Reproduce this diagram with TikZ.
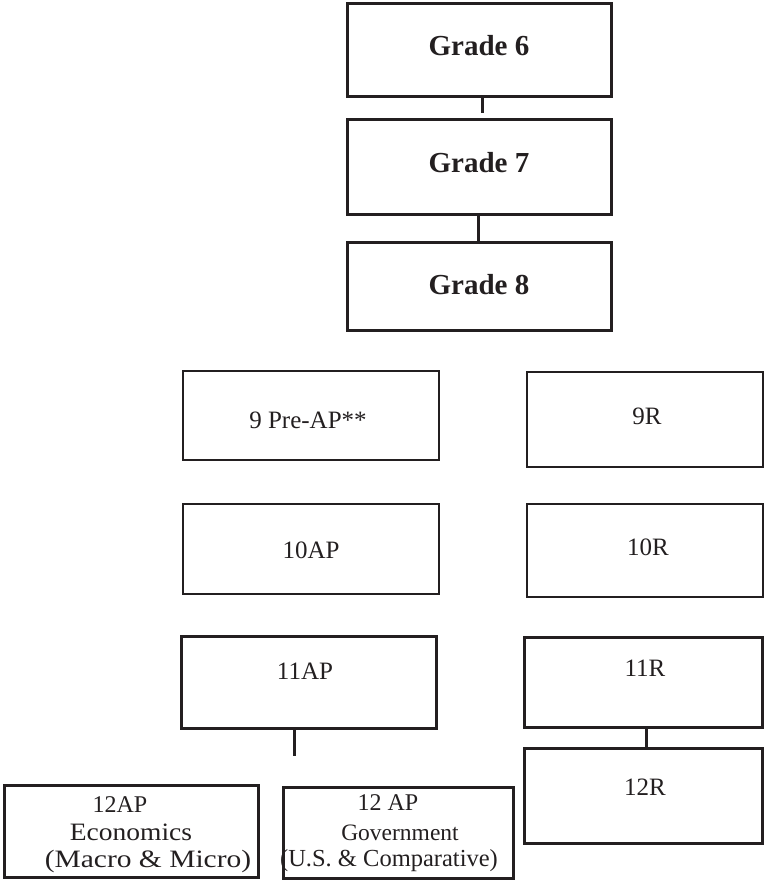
\documentclass[tikz,border=0pt]{standalone}
\usepackage{fontspec}
\setmainfont{Liberation Serif}
\usetikzlibrary{calc}
\definecolor{ink}{HTML}{231F20}
\tikzset{
  box/.style={draw=ink, line width=3pt, rectangle, inner sep=0pt, outer sep=0pt},
  thinbox/.style={box, line width=2.5pt},
  link/.style={draw=ink, line width=3pt},
  gradetext/.style={font=\fontsize{29}{33}\selectfont\bfseries, text=ink},
  coursetext/.style={font=\fontsize{25}{29}\selectfont, text=ink},
  smalltext/.style={font=\fontsize{24}{27}\selectfont, text=ink, anchor=base},
}
% place a box by its pixel corners (x1,y1)-(x2,y2)
\newcommand{\boxat}[6][box]{%
  \node[#1, minimum width=#4pt-#2pt, minimum height=#5pt-#3pt]
    (#6) at ({(#2+#4)/2},{(#3+#5)/2}) {};}
\begin{document}
\begin{tikzpicture}[x=1pt, y=-1pt]
\path[use as bounding box] (0,0) rectangle (765,881);

% middle-school grades
\boxat{347}{3}{611}{96}{g6}
\boxat{347}{119}{611}{214}{g7}
\boxat{347}{242}{611}{330}{g8}
\node[gradetext] (t6) at (479,46) {Grade 6};
\node[gradetext] (t7) at (479,163) {Grade 7};
\node[gradetext] (t8) at (479,284.5) {Grade 8};

% AP track
\boxat[thinbox]{183}{371}{439}{460}{ap9}
\boxat[thinbox]{183}{504}{439}{594}{ap10}
\boxat{181}{636}{436}{728}{ap11}
\node[coursetext] (tap9) at (308,420) {9 Pre-AP**};
\node[coursetext] (tap10) at (311,550) {10AP};
\node[coursetext] (tap11) at (305,671) {11AP};

% regular track
\boxat[thinbox]{527}{372}{763}{467}{r9}
\boxat[thinbox]{527}{504}{763}{597}{r10}
\boxat{524}{637}{762}{727}{r11}
\boxat{524}{748}{762}{843}{r12}
\node[coursetext] (tr9) at (647,416) {9R};
\node[coursetext] (tr10) at (648,547) {10R};
\node[coursetext] (tr11) at (645,668) {11R};
\node[coursetext] (tr12) at (645,787) {12R};

% senior AP choices
\boxat{4}{785}{258}{877}{econ}
\boxat{283}{787}{513}{878}{gov}
\node[smalltext] (e1) at (120,812) {12AP};
\node[smalltext, font=\fontsize{25}{28}\selectfont] (e2) at (131,840) {\scalebox{1.1}[1]{Economics}};
\node[smalltext, font=\fontsize{25}{28}\selectfont] (e3) at (148,867) {\scalebox{1.18}[1]{(Macro \& Micro)}};
\node[smalltext] (v1) at (388,810) {12 AP};
\node[smalltext, font=\fontsize{23.5}{27}\selectfont] (v2) at (400,840) {Government};
\node[smalltext, font=\fontsize{24.5}{27}\selectfont] (v3) at (389,866) {(U.S. \& Comparative)};

% connectors
\coordinate (g6end) at (482,113);
\coordinate (ap11end) at (294,756);
\draw[link] (g6.south -| g6end) -- (g6end);
\draw[link] (g7.south -| 478,0) -- (g8.north -| 478,0);
\draw[link] (ap11.south -| ap11end) -- (ap11end);
\draw[link] (r11.south -| 646,0) -- (r12.north -| 646,0);
\end{tikzpicture}
\end{document}
